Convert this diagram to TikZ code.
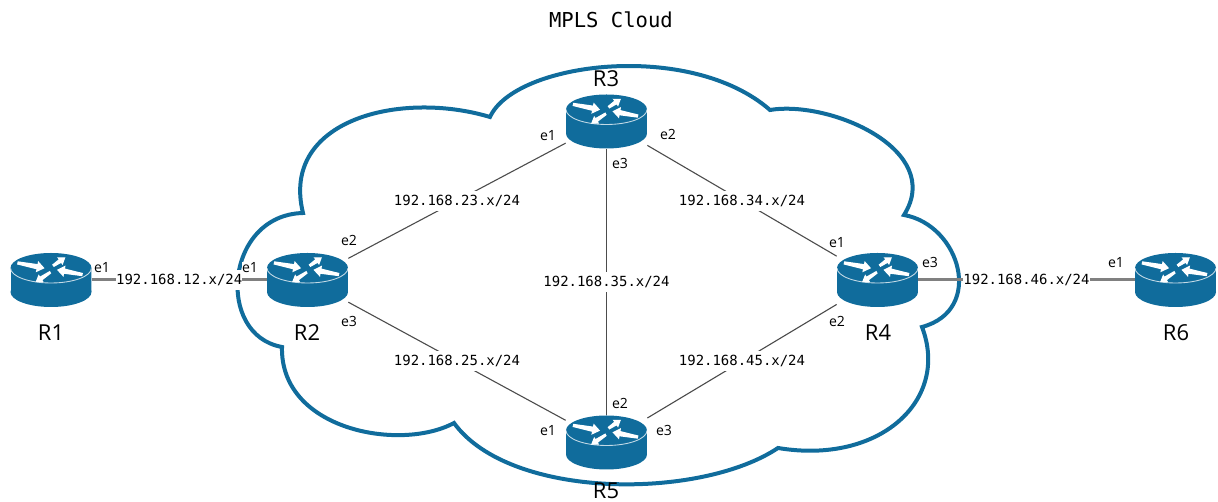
\documentclass[tikz,border=0pt]{standalone}
\usepackage{fontspec}
\setmainfont{Open Sans}
\newfontfamily\netfont{DejaVu Sans Mono}
\definecolor{routerblue}{RGB}{16,108,156}
\definecolor{linkgray}{RGB}{128,128,128}
\tikzset{
  routerarrow/.style={draw=white,fill=white,line width=0.025cm},
  router/.style={rectangle,minimum width=1.62cm,minimum height=1.08cm,inner sep=0pt,
    path picture={
      \begin{scope}[shift={(path picture bounding box.center)}]
        \fill [routerblue] (0,-12) ellipse [x radius=40.5,y radius=15];
        \fill [routerblue] (-40.5,-12) rectangle (40.5,12);
        \fill [routerblue] (0,12) ellipse [x radius=40.5,y radius=15];
        \draw [white!75!routerblue,line width=0.5pt] (-40.5,-12) arc [start angle=180,end angle=0,x radius=40.5,y radius=15];
        \path [routerarrow] (-32.8,-18) -- (-13,-15.2) -- (-12.5,-17.6) -- (-7.5,-12) -- (-14.3,-8.8) -- (-13.8,-11.2) -- (-33.2,-16) -- cycle;
        \path [routerarrow] (2,-15.2) -- (8.5,-20.5) -- (7.4,-22.1) -- (13.5,-22) -- (11.4,-16.3) -- (10.3,-17.9) -- (3,-13.8) -- cycle;
        \path [routerarrow] (-1.4,-8.2) -- (-11.2,-2.6) -- (-12.2,-4.2) -- (-14.5,1.5) -- (-8.4,1.6) -- (-9.4,0) -- (-0.6,-6.8) -- cycle;
        \path [routerarrow] (31.2,-6.5) -- (13.3,-10.9) -- (13.7,-13.3) -- (7,-10) -- (12.1,-4.5) -- (12.5,-6.9) -- (30.8,-4.5) -- cycle;
      \end{scope}}},
  routername/.style={font=\fontsize{12.5}{14}\selectfont,inner sep=0pt},
  portlabel/.style={font=\fontsize{8}{9}\selectfont,fill=white,inner sep=0.3pt},
  netlabel/.style={font=\netfont\fontsize{7.95}{9}\selectfont,fill=white,inner sep=0pt,minimum height=0.4cm},
  cloudline/.style={draw=routerblue,line width=0.08cm,line join=miter},
  thinlink/.style={draw=black!70,line width=0.022cm},
  thicklink/.style={draw=linkgray,line width=0.06cm}
}
\begin{document}
\begin{tikzpicture}[x=0.02cm,y=-0.02cm]
        \useasboundingbox (0,0) rectangle (1218,502);
        \draw [cloudline] (490,117) .. controls (515,62) and (690,40) .. (770,110)
          .. controls (830,100) and (945,150) .. (904,215)
          .. controls (960,225) and (985,310) .. (922,327)
          .. controls (950,400) and (880,465) .. (778,448)
          .. controls (700,500) and (510,500) .. (454,423)
          .. controls (400,452) and (280,430) .. (282,347)
          .. controls (215,335) and (225,215) .. (303,213)
          .. controls (280,120) and (400,90) .. (490,117) -- cycle;
        \node (r1) at (51,280) [router] {};
        \node (r2) at (307.5,280) [router] {};
        \node (r3) at (606.5,121.5) [router] {};
        \node (r4) at (877.5,280) [router] {};
        \node (r5) at (606.5,442.5) [router] {};
        \node (r6) at (1175.5,280) [router] {};
        \draw [thicklink] (r1)--(r2) node (n12) [midway,netlabel,text=black] {192.168.12.x/24};
        \draw [thicklink] (r4)--(r6) node (n46) [midway,netlabel,text=black] {192.168.46.x/24};
        \draw [thinlink] (r2)--(r3) node (n23) [midway,netlabel,text=black] {192.168.23.x/24};
        \draw [thinlink] (r2)--(r5) node (n25) [midway,netlabel,text=black] {192.168.25.x/24};
        \draw [thinlink] (r3)--(r4) node (n34) [midway,netlabel,text=black] {192.168.34.x/24};
        \draw [thinlink] (r5)--(r4) node (n45) [midway,netlabel,text=black] {192.168.45.x/24};
        \draw [thinlink] (r3)--(r5) node (n35) [midway,netlabel,text=black] {192.168.35.x/24};
        \node (title) at (611,20) [font=\netfont\fontsize{11.7}{14}\selectfont] {MPLS Cloud};
        \node (name1) at (51,333) [routername] {R1};
        \node (name2) at (307,333) [routername] {R2};
        \node (name3) at (606,79) [routername] {R3};
        \node (name4) at (878,333) [routername] {R4};
        \node (name5) at (606,491) [routername] {R5};
        \node (name6) at (1176,333) [routername] {R6};
        \node (r1e1) at (102,268) [portlabel] {e1};
        \node (r2e1) at (250,268) [portlabel] {e1};
        \node (r2e2) at (349,240) [portlabel] {e2};
        \node (r2e3) at (349,321) [portlabel] {e3};
        \node (r3e1) at (548,136) [portlabel] {e1};
        \node (r3e2) at (668,134) [portlabel] {e2};
        \node (r3e3) at (620,163) [portlabel] {e3};
        \node (r4e1) at (837,243) [portlabel] {e1};
        \node (r4e2) at (837,321) [portlabel] {e2};
        \node (r4e3) at (930,262) [portlabel] {e3};
        \node (r5e1) at (548,431) [portlabel] {e1};
        \node (r5e2) at (620,403) [portlabel] {e2};
        \node (r5e3) at (664,430) [portlabel] {e3};
        \node (r6e1) at (1116,263) [portlabel] {e1};
      \end{tikzpicture}
\end{document}
